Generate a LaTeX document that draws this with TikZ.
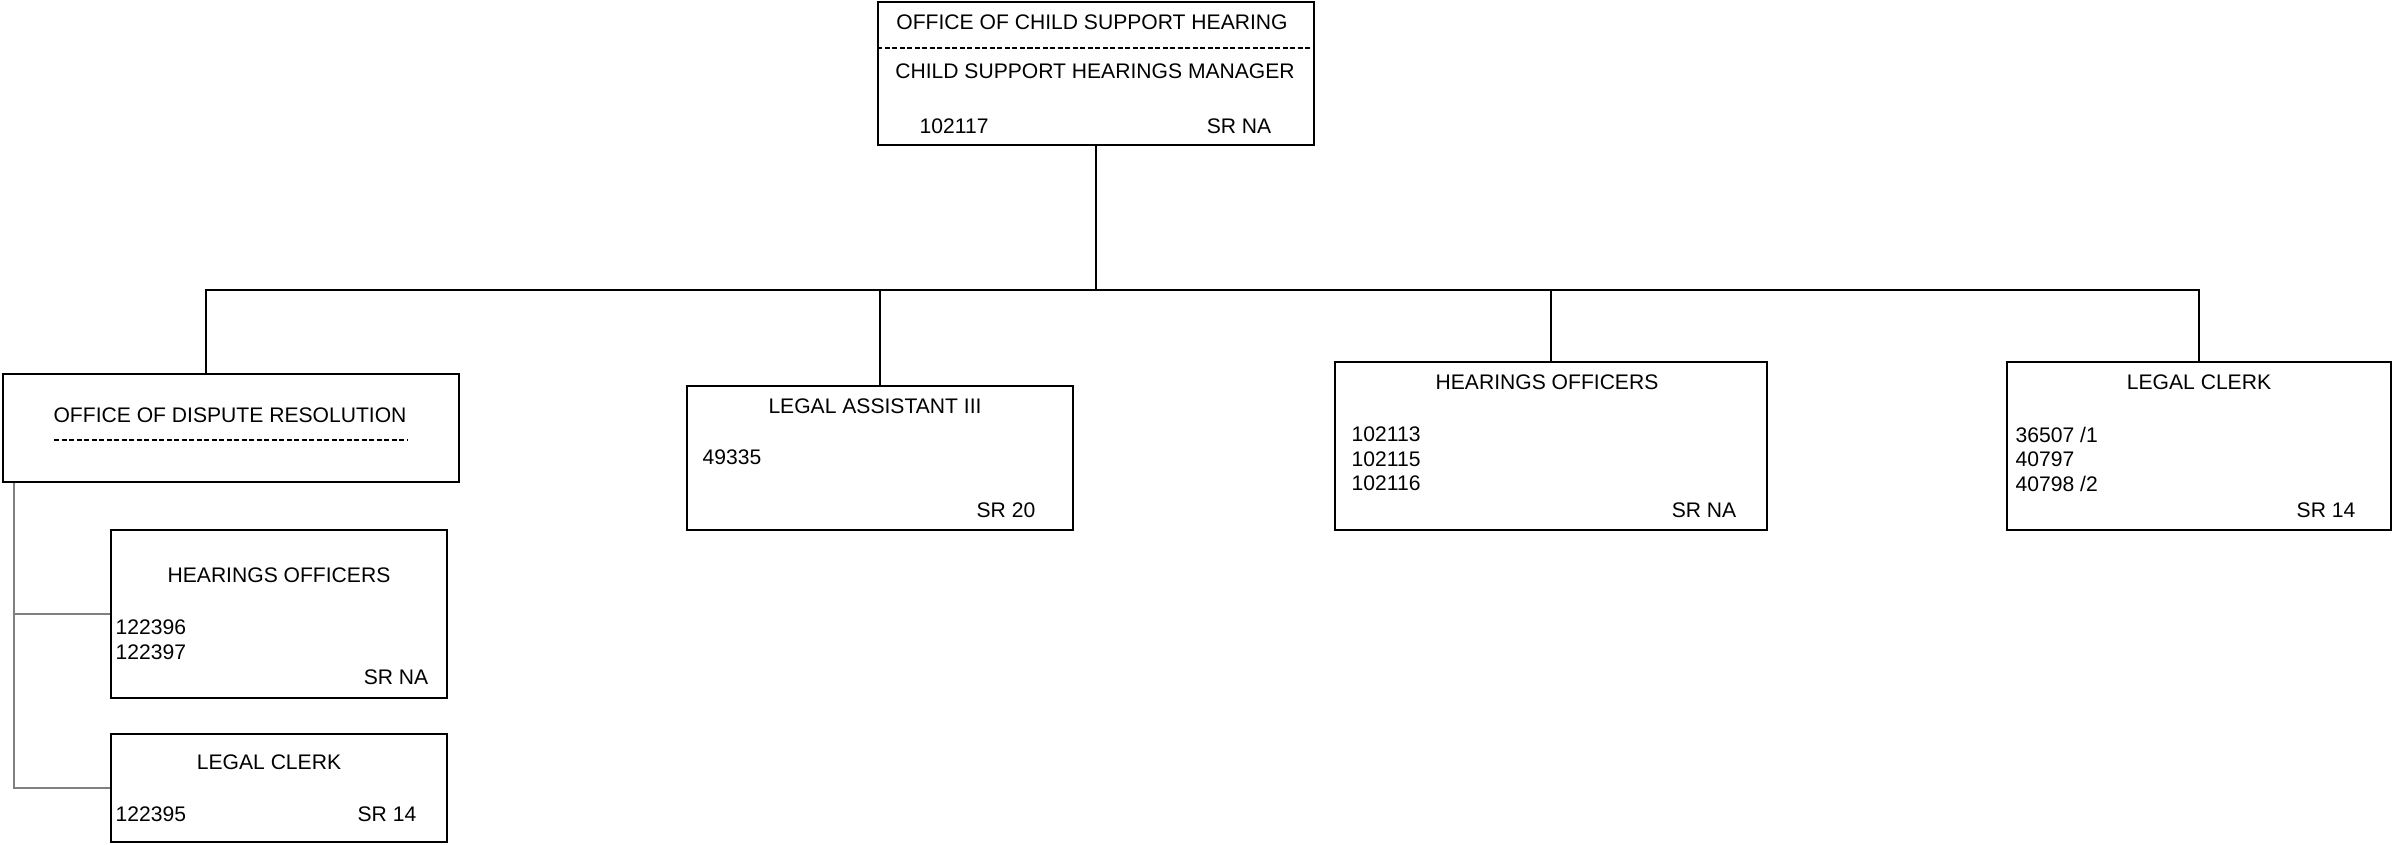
\documentclass[tikz,border=0pt]{standalone}
\usepackage{fontspec}
\setmainfont{Liberation Sans}

\tikzstyle{unit} = [draw, rectangle, line width=0.55pt, inner sep=0pt]
\tikzstyle{txt} = [inner sep=0pt, font=\fontsize{6}{7}\selectfont]
\tikzstyle{link} = [line width=0.55pt]
\tikzstyle{sublink} = [line width=0.45pt, gray]
\tikzstyle{sep} = [line width=0.55pt, dash pattern=on 0.05cm off 0.025cm]

\begin{document}
\begin{tikzpicture}[x=0.01cm, y=-0.01cm]
        \useasboundingbox (0,0) rectangle (2394,844);
        % boxes
        \node [unit, minimum width=4.35cm, minimum height=1.43cm] (top) at (1096,73.5) {};
        \node [unit, minimum width=4.56cm, minimum height=1.08cm] (odr) at (231,428) {};
        \node [unit, minimum width=3.36cm, minimum height=1.68cm] (subho) at (279,614) {};
        \node [unit, minimum width=3.36cm, minimum height=1.08cm] (subclerk) at (279,788) {};
        \node [unit, minimum width=3.85cm, minimum height=1.44cm] (la) at (880,458) {};
        \node [unit, minimum width=4.32cm, minimum height=1.68cm] (ho) at (1551,446) {};
        \node [unit, minimum width=3.84cm, minimum height=1.68cm] (lc) at (2199,446) {};
        % manager
        \node [txt, anchor=base] (toptitle) at (1092,29) {OFFICE OF CHILD SUPPORT HEARING};
        \node [txt, anchor=base] (topjob) at (1095,78) {CHILD SUPPORT HEARINGS MANAGER};
        \node [txt, anchor=base west] (topnum) at (919,133) {102117};
        \node [txt, anchor=base east] (topsr) at (1272,133) {SR NA};
        \draw [sep] ([yshift=-0.47cm]top.north west) -- ([yshift=-0.47cm]top.north east);
        % dispute resolution
        \node [txt, anchor=base] (odrtitle) at (230,422) {OFFICE OF DISPUTE RESOLUTION};
        \coordinate (odrsepl) at (54,440);
        \coordinate (odrsepr) at (407,440);
        \draw [sep] (odrsepl) -- (odrsepr);
        \node [txt, anchor=base] (subhotitle) at (279,582) {HEARINGS OFFICERS};
        \node [txt, anchor=north west, align=left] (subhonum) at (115,619) {122396\\122397};
        \node [txt, anchor=base east] (subhosr) at (429,684) {SR NA};
        \node [txt, anchor=base] (subclerktitle) at (269,769) {LEGAL CLERK};
        \node [txt, anchor=base west] (subclerknum) at (115,821) {122395};
        \node [txt, anchor=base east] (subclerksr) at (417,821) {SR 14};
        % legal assistant
        \node [txt, anchor=base] (latitle) at (875,413) {LEGAL ASSISTANT III};
        \node [txt, anchor=base west] (lanum) at (702,464) {49335};
        \node [txt, anchor=base east] (lasr) at (1036,517) {SR 20};
        % hearings officers
        \node [txt, anchor=base] (hotitle) at (1547,389) {HEARINGS OFFICERS};
        \node [txt, anchor=north west, align=left] (honum) at (1351,426) {102113\\102115\\102116};
        \node [txt, anchor=base east] (hosr) at (1737,517) {SR NA};
        % legal clerk
        \node [txt, anchor=base] (lctitle) at (2199,389) {LEGAL CLERK};
        \node [txt, anchor=north west, align=left] (lcnum) at (2015,426) {36507 /1\\40797\\40798 /2};
        \node [txt, anchor=base east] (lcsr) at (2356,517) {SR 14};
        % connectors
        \coordinate (bus) at (0,290);
        \coordinate (trunk) at ([xshift=0.12cm]odr.south west);
        \draw [link] (top.south) -- (top.south |- bus);
        \draw [link] ([xshift=-0.25cm]odr.north) |- (lc.north |- bus) -- (lc.north);
        \draw [link] (la.north) -- (la.north |- bus);
        \draw [link] (ho.north) -- (ho.north |- bus);
        \draw [sublink] (trunk) |- (subclerk.west);
        \draw [sublink] (trunk |- subho.west) -- (subho.west);
    \end{tikzpicture}
\end{document}
